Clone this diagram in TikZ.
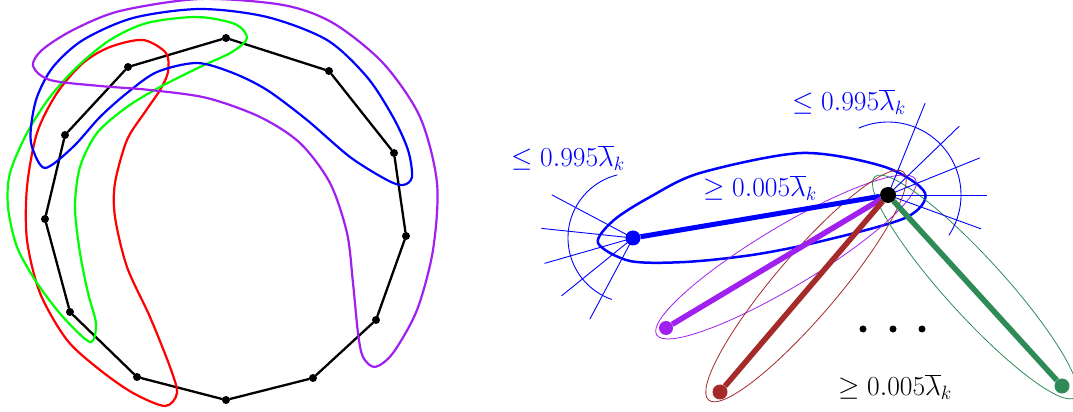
\RequirePackage{fix-cm}
\documentclass[tikz,border=0pt]{standalone}
\usetikzlibrary{backgrounds}
\definecolor{lpurple}{RGB}{160,32,240}
\definecolor{lbrown}{RGB}{165,42,42}
\definecolor{lgreen}{RGB}{46,139,87}

\begin{document}
\begin{tikzpicture}[x=1pt,y=1pt,line cap=round,line join=round]
    \tikzset{
      vert/.style={circle, fill=black, inner sep=0pt, minimum size=8pt},
      edge/.style={line width=2.3pt},
      hull/.style={line width=2.2pt, #1},
      dot/.style={circle, fill=#1, inner sep=0pt, minimum size=15pt},
      bar/.style={line width=5.5pt, #1, line cap=butt},
      halo/.style={line width=0.8pt, #1},
      fan/.style={blue, line width=0.9pt},
      lbl/.style={font=\fontsize{27.5}{30}\selectfont}
    }
    \useasboundingbox (0,0) rectangle (1073,412);

    % Left: cycle
    \foreach \p [count=\i] in {(226,374),(329,341),(394,259),(406,176),(376,92),(313,34),
                               (226,12),(137,35),(70,100),(45,193),(65,277),(128,345)}
      \node[vert] (v\i) at \p {};
    \foreach \i [remember=\i as \j (initially 12)] in {1,...,12}
      \draw[edge] (v\j) -- (v\i);

    % Left: the four closed curves
    \draw[hull=red] plot[smooth cycle] coordinates {
      (143,372) (166,359) (168,340) (160,322) (145,300) (127,272) (115,229) (115,195)
      (127,145) (150,95) (170,45) (177,19) (165,6) (133,19) (100,42) (67,72) (40,119)
      (27,172) (27,225) (37,279) (57,319) (83,349) (110,365)};
    \draw[hull=green] plot[smooth cycle] coordinates {
      (247,374) (235,388) (197,395) (147,389) (110,372) (77,345) (50,315) (27,279)
      (10,239) (8,205) (17,165) (37,129) (63,95) (90,70) (96,88) (88,119) (80,159)
      (75,205) (80,245) (97,279) (127,305) (160,325) (200,345) (232,360)};
    \draw[hull=blue] plot[smooth cycle] coordinates {
      (45,244) (32,265) (31,285) (37,315) (53,345) (83,372) (133,394) (200,403)
      (267,395) (327,372) (367,335) (393,295) (408,262) (412,235) (403,227) (387,232)
      (350,255) (307,292) (267,322) (233,339) (197,349) (157,340) (127,319) (100,295)
      (73,265)};
    \draw[hull=lpurple] plot[smooth cycle] coordinates {
      (33,346) (42,362) (73,382) (120,401) (200,413) (283,407) (333,389) (383,349)
      (420,295) (437,229) (433,162) (417,102) (393,59) (375,45) (363,55) (358,79)
      (353,129) (347,179) (330,229) (300,269) (260,295) (207,314) (150,322) (100,326)
      (50,332)};

    % Right: endpoints
    \node[dot=blue] (B) at (633,174) {};
    \node[dot=black, minimum size=16pt] (K) at (888,217) {};
    \node[dot=lpurple, minimum size=14pt] (P) at (666,84) {};
    \node[dot=lbrown] (R) at (720,20) {};
    \node[dot=lgreen] (G) at (1062,26) {};
    \foreach \x [count=\i] in {863,893,922}
      \node[dot=black, minimum size=7pt] (e\i) at (\x,83) {};

    \begin{scope}[on background layer]
      % big blue region
      \draw[blue, line width=2.5pt] plot[smooth cycle] coordinates {
        (598,169) (614,192) (650,215) (700,239) (802,259) (885,245) (925,219)
        (905,194) (818,170) (752,157) (685,150) (630,151)};
      % thin ellipses
      \draw[halo=lpurple, rotate around={31:(786,155)}] (786,155) ellipse [x radius=151pt, y radius=30pt];
      \draw[halo=lbrown, rotate around={49.5:(806,126)}] (806,126) ellipse [x radius=150pt, y radius=31pt];
      \draw[halo=lgreen, rotate around={-47.7:(975,125)}] (975,125) ellipse [x radius=149pt, y radius=29pt];
      % fans
      \foreach \a in {152,174,196,219,242}
        \draw[fan] (B.center) -- ++(\a:92pt);
      \draw[fan] (B.center) ++(104:65pt) arc[start angle=104, end angle=251, radius=65pt];
      \foreach \a in {68,44,22,0,-20}
        \draw[fan] (K.center) -- ++(\a:99pt);
      \draw[fan] (K.center) ++(-33.5:73pt) arc[start angle=-33.5, end angle=113.6, radius=73pt];
      % edges
      \draw[bar=blue, line width=5pt] (B) -- (K);
      \draw[bar=lpurple] (P) -- (K);
      \draw[bar=lbrown] (R) -- (K);
      \draw[bar=lgreen] (G) -- (K);
    \end{scope}

    % Labels
    \node[lbl, text=blue] (l1) at (568,254) {$\leq 0.995\overline{\lambda}_k$};
    \node[lbl, text=blue] (l2) at (849,310) {$\leq 0.995\overline{\lambda}_k$};
    \node[lbl, text=blue] (l3) at (760,224) {$\geq 0.005\overline{\lambda}_k$};
    \node[lbl] (l4) at (895,25) {$\geq 0.005\overline{\lambda}_k$};
\end{tikzpicture}
\end{document}
